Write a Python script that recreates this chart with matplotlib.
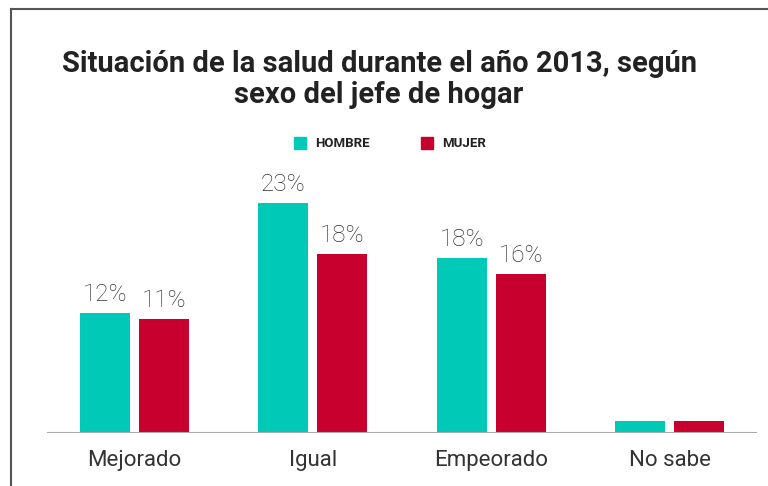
#Situacion de la salud 2013 segun sexo del jefe de hogar
import matplotlib
matplotlib.use('Agg')
import matplotlib.pyplot as plt
from matplotlib.lines import Line2D
from matplotlib.patches import Rectangle
import numpy as np

plt.rcParams['font.family'] = ['Roboto', 'DejaVu Sans']

#data
categories = ['Mejorado', 'Igual', 'Empeorado', 'No sabe']
hombre = [12.0, 23.0, 17.5, 1.2]
mujer = [11.4, 17.9, 15.9, 1.2]
hombre_labels = ['12%', '23%', '18%', '']
mujer_labels = ['11%', '18%', '16%', '']
series_names = ['HOMBRE', 'MUJER']

teal = '#00c9b7'
red = '#c8002e'

fig = plt.figure(figsize=(7.68, 4.86), dpi=100)
ax = fig.add_axes([47/768, 53/486, 710/768, 250/486])

x = np.arange(len(categories))
w = 0.28
off = 0.165
ax.bar(x - off, hombre, w, color=teal, zorder=2)
ax.bar(x + off, mujer, w, color=red, zorder=2)

#value labels
for i in range(len(categories)):
    ax.annotate(hombre_labels[i], (x[i] - off, hombre[i]), xytext=(0, 8.6),
                textcoords='offset points', ha='center', va='baseline',
                fontsize=17.5, fontweight='light', color='#333333')
    ax.annotate(mujer_labels[i], (x[i] + off, mujer[i]), xytext=(0, 8.6),
                textcoords='offset points', ha='center', va='baseline',
                fontsize=17.5, fontweight='light', color='#333333')

#category labels
for i, c in enumerate(categories):
    ax.text(x[i], -0.132, c, transform=ax.get_xaxis_transform(), ha='center',
            va='baseline', fontsize=16, color='#333333')

ax.axhline(0, color='#aaaaaa', linewidth=1.5, zorder=3)
ax.set_xlim(-0.49, 3.49)
ax.set_ylim(0, 25)
ax.axis('off')

#title
fig.text(379/768, 1 - 72/486, 'Situación de la salud durante el año 2013, según',
         ha='center', va='baseline', fontsize=21, fontweight='bold', color='#222222')
fig.text(379/768, 1 - 103/486, 'sexo del jefe de hogar',
         ha='center', va='baseline', fontsize=21, fontweight='bold', color='#222222')

#legend
legend_x = [294, 421]
for lx, name, col in zip(legend_x, series_names, [teal, red]):
    fig.add_artist(Rectangle((lx/768, 1 - 149/486), 12/768, 12/486,
                             transform=fig.transFigure, color=col))
    fig.text((lx + 21)/768, 1 - 147/486, name, ha='left', va='baseline',
             fontsize=9.5, fontweight='bold', color='#222222')

#frame lines
fig.add_artist(Line2D([11/768, 1], [1 - 9/486, 1 - 9/486], transform=fig.transFigure,
                      color='#555555', linewidth=1.5))
fig.add_artist(Line2D([11/768, 11/768], [1 - 9/486, 0], transform=fig.transFigure,
                      color='#555555', linewidth=1.5))

fig.savefig('out.png', dpi=100, facecolor='white')
